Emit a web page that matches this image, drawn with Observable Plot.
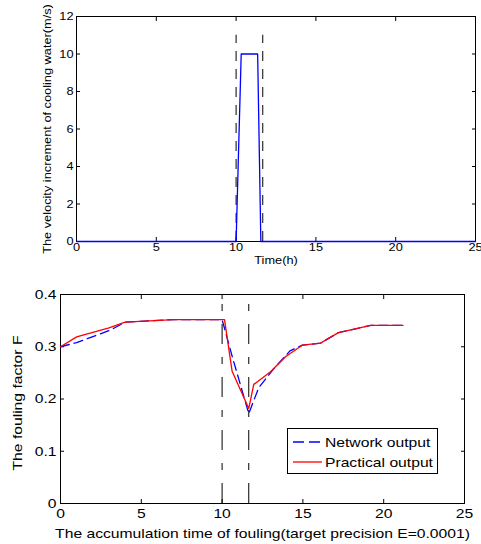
<!DOCTYPE html>
<html>
<head>
<meta charset="utf-8">
<script src="https://cdn.jsdelivr.net/npm/d3@7"></script>
<script src="https://cdn.jsdelivr.net/npm/@observablehq/plot@0.6"></script>
<style>
  body { margin: 0; background: #fff; }
  #wrap { position: relative; width: 481px; height: 544px; background: #fff; overflow: hidden; }
  #top, #bottom, #legend { position: absolute; left: 0; }
  #top { top: 0; }
  #bottom { top: 270px; }
  #legend { left: 287px; top: 428px; }
</style>
</head>
<body>
<div id="wrap">
  <div id="top"></div>
  <div id="bottom"></div>
  <div id="legend"></div>
</div>
<script>
// ---- Data: top panel (velocity increment) ----
const velTime  = [0, 10, 10.32, 11.35, 11.55, 25];
const velValue = [0, 0, 10, 10, 0, 0];
const topMarkers = [10, 11.67];
const topMarkerTop = 11;
const topXTicks = [0, 5, 10, 15, 20, 25];
const topYTicks = [0, 2, 4, 6, 8, 10, 12];

// ---- Data: bottom panel (fouling factor) ----
const seriesNames = ["Network output", "Practical output"];
const networkTime  = [0, 1, 3.1, 4, 7, 10.0, 10.62, 11.65, 12.27, 13.2, 14.2, 14.96, 16.09, 17.2, 19.2, 21.2];
const networkValue = [0.300, 0.308, 0.332, 0.347, 0.352, 0.352, 0.282, 0.172, 0.222, 0.258, 0.292, 0.303, 0.307, 0.327, 0.341, 0.341];
const practicalTime  = [0, 1, 3, 4, 7, 10.15, 10.62, 11.65, 11.96, 13.0, 13.92, 14.96, 16.09, 17.2, 19.2, 21.2];
const practicalValue = [0.300, 0.319, 0.336, 0.347, 0.352, 0.352, 0.253, 0.182, 0.228, 0.252, 0.281, 0.303, 0.307, 0.327, 0.341, 0.341];
const bottomMarkers = [10, 11.65];
const botXTicks = [0, 5, 10, 15, 20, 25];
const botYTicks = [0, 0.1, 0.2, 0.3, 0.4];

const font = "'Liberation Sans', Arial, Helvetica, sans-serif";
const blank = () => "";
const blue = "#0000ff", red = "#ff0000";
const STRETCH = 1.16;

function boxAxes(xt, yt, fmtY, padX, padY) {
  return [
    Plot.axisX({anchor: "bottom", ticks: xt, tickSize: 0, tickPadding: padX, label: null}),
    Plot.axisY({anchor: "left", ticks: yt, tickSize: 0, tickPadding: padY, tickFormat: fmtY, label: null}),
    Plot.axisX({anchor: "bottom", ticks: xt, tickSize: -4, tickFormat: blank, label: null}),
    Plot.axisX({anchor: "top", ticks: xt, tickSize: -4, tickFormat: blank, label: null}),
    Plot.axisY({anchor: "left", ticks: yt, tickSize: -4, tickFormat: blank, label: null}),
    Plot.axisY({anchor: "right", ticks: yt, tickSize: -4, tickFormat: blank, label: null})
  ];
}

function stretchText(root, k) {
  root.querySelectorAll("text").forEach(t => {
    if (!t.textContent.trim()) return;
    const len = t.getComputedTextLength();
    if (len > 0) {
      t.setAttribute("textLength", (len * k).toFixed(2));
      t.setAttribute("lengthAdjust", "spacingAndGlyphs");
    }
  });
}

const topPlot = Plot.plot({
  width: 481, height: 270,
  marginLeft: 76, marginRight: 6, marginTop: 16, marginBottom: 29,
  x: {domain: [0, 25]},
  y: {domain: [0, 12]},
  style: {fontFamily: font, fontSize: "11px", color: "#000", background: "#fff", overflow: "visible"},
  marks: [
    Plot.ruleX(topMarkers, {x: d => d, y1: 0, y2: topMarkerTop, stroke: "#000", strokeWidth: 1, strokeDasharray: "10,8"}),
    Plot.frame({stroke: "#000", strokeWidth: 1}),
    ...boxAxes(topXTicks, topYTicks, d => String(d), 2, 3),
    Plot.line(velValue, {x: velTime, y: velValue, stroke: blue, strokeWidth: 1.3}),
    Plot.text(["Time(h)"], {text: d => d, frameAnchor: "bottom", dy: 19, lineAnchor: "middle", textAnchor: "middle", fontSize: 11}),
    Plot.text(["The velocity increment of cooling water(m/s)"], {text: d => d, frameAnchor: "left", dx: -29, rotate: -90, lineAnchor: "middle", textAnchor: "middle", fontSize: 11})
  ]
});
document.getElementById("top").appendChild(topPlot);
stretchText(topPlot, STRETCH);

const botPlot = Plot.plot({
  width: 481, height: 274,
  marginLeft: 60, marginRight: 17, marginTop: 24, marginBottom: 41,
  x: {domain: [0, 25]},
  y: {domain: [0, 0.4]},
  style: {fontFamily: font, fontSize: "13.5px", color: "#000", background: "#fff", overflow: "visible"},
  marks: [
    Plot.ruleX(bottomMarkers, {x: d => d, y1: 0, y2: 0.4, stroke: "#000", strokeWidth: 1, strokeDasharray: "20,13,7,13"}),
    Plot.frame({stroke: "#000", strokeWidth: 1}),
    ...boxAxes(botXTicks, botYTicks, d => d === 0 ? "0" : d3.format(".1f")(d), 5, 4),
    Plot.line(networkValue, {x: networkTime, y: networkValue, stroke: blue, strokeWidth: 1.3, strokeDasharray: "9,5"}),
    Plot.line(practicalValue, {x: practicalTime, y: practicalValue, stroke: red, strokeWidth: 1.3}),
    Plot.text(["The accumulation time of fouling(target precision E=0.0001)"], {text: d => d, frameAnchor: "bottom", dy: 30, lineAnchor: "middle", textAnchor: "middle", fontSize: 13.5}),
    Plot.text(["The fouling factor F"], {text: d => d, frameAnchor: "left", dx: -43, dy: 4, rotate: -90, lineAnchor: "middle", textAnchor: "middle", fontSize: 13.5})
  ]
});
document.getElementById("bottom").appendChild(botPlot);
stretchText(botPlot, STRETCH);

// ---- Legend ----
const legendStyles = [
  {stroke: blue, dash: "11,5"},
  {stroke: red, dash: null}
];
const lg = d3.select("#legend").append("svg")
  .attr("width", 151).attr("height", 46)
  .style("font-family", font).style("font-size", "13.5px");
lg.append("rect").attr("x", 0.5).attr("y", 0.5).attr("width", 150).attr("height", 45)
  .attr("fill", "#fff").attr("stroke", "#000");
seriesNames.forEach((name, i) => {
  const cy = 14 + i * 20;
  const s = legendStyles[i];
  const ln = lg.append("line").attr("x1", 6).attr("x2", 35).attr("y1", cy).attr("y2", cy)
    .attr("stroke", s.stroke).attr("stroke-width", 1.3);
  if (s.dash) ln.attr("stroke-dasharray", s.dash);
  lg.append("text").attr("x", 38).attr("y", cy).attr("dy", "0.35em").attr("fill", "#000").text(name);
});
stretchText(lg.node(), STRETCH);
</script>
</body>
</html>
